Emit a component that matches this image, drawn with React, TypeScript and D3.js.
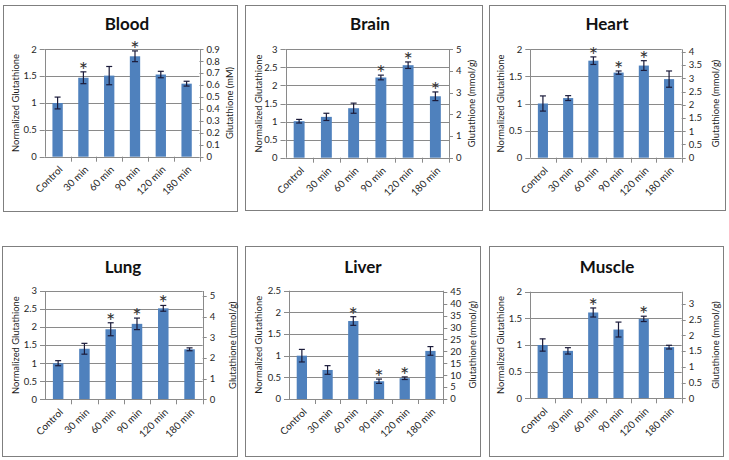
import React from "react";
import * as d3 from "d3";

const categories = ["Control", "30 min", "60 min", "90 min", "120 min", "180 min"];

const bloodValues = [1.0, 1.47, 1.51, 1.87, 1.53, 1.36];
const bloodErrors = [0.11, 0.11, 0.17, 0.1, 0.06, 0.045];
const bloodStars = [1, 3];

const brainValues = [1.01, 1.13, 1.37, 2.22, 2.56, 1.7];
const brainErrors = [0.05, 0.1, 0.14, 0.065, 0.09, 0.12];
const brainStars = [3, 4, 5];

const heartValues = [1.0, 1.1, 1.79, 1.57, 1.7, 1.45];
const heartErrors = [0.14, 0.045, 0.07, 0.03, 0.09, 0.15];
const heartStars = [2, 3, 4];

const lungValues = [1.0, 1.4, 1.94, 2.09, 2.52, 1.385];
const lungErrors = [0.07, 0.15, 0.18, 0.16, 0.08, 0.04];
const lungStars = [2, 3, 4];

const liverValues = [1.0, 0.67, 1.8, 0.41, 0.48, 1.11];
const liverErrors = [0.145, 0.1, 0.1, 0.05, 0.03, 0.1];
const liverStars = [2, 3, 4];

const muscleValues = [1.0, 0.89, 1.61, 1.29, 1.49, 0.96];
const muscleErrors = [0.115, 0.06, 0.085, 0.14, 0.05, 0.035];
const muscleStars = [2, 4];

const titles = ["Blood", "Brain", "Heart", "Lung", "Liver", "Muscle"];
const leftAxisTitle = "Normalized Glutathione";
const rightAxisTitles = [
  "Glutathione (mM)",
  "Glutathione (mmol/g)",
  "Glutathione (mmol/g)",
  "Glutathione (mmol/g)",
  "Glutathione (mmol/g)",
  "Glutathione (mmol/g)",
];
const leftMax = [2, 3, 2, 3, 2.5, 2];
const leftStep = [0.5, 0.5, 0.5, 0.5, 0.5, 0.5];
const rightMax = [0.9, 5, 4.1, 5.24, 45.5, 3.39];
const rightTickMax = [0.9, 5, 4, 5, 45, 3];
const rightStep = [0.1, 1, 0.5, 1, 5, 0.5];

const seriesValues = [bloodValues, brainValues, heartValues, lungValues, liverValues, muscleValues];
const seriesErrors = [bloodErrors, brainErrors, heartErrors, lungErrors, liverErrors, muscleErrors];
const seriesStars = [bloodStars, brainStars, heartStars, lungStars, liverStars, muscleStars];

// layout: box [x0,y0,x1,y1], plot [x0,y0,x1,y1]
const layouts = [
  { box: [3, 5, 237, 211], plot: [44.7, 49.3, 199.5, 156.7], titleX: 127, titleY: 30, lx: 16, rx: 230 },
  { box: [245, 5, 482, 210], plot: [285.5, 49.3, 449, 157.7], titleX: 370, titleY: 30, lx: 259, rx: 472 },
  { box: [489, 5, 725, 210], plot: [530.3, 49.3, 681.7, 157.7], titleX: 607, titleY: 30, lx: 501, rx: 716 },
  { box: [2, 246, 237, 456], plot: [45, 291, 202.7, 399.3], titleX: 123, titleY: 273, lx: 16, rx: 233 },
  { box: [245, 246, 480, 456], plot: [289, 290.7, 443.3, 399], titleX: 363, titleY: 273, lx: 259, rx: 473 },
  { box: [489, 246, 723, 456], plot: [530, 291.7, 681.7, 398.3], titleX: 607, titleY: 273, lx: 501, rx: 716 },
];

const FONT = "Lato, 'Open Sans', sans-serif";
const BAR = "#4f81bd";
const GRID = "#8a8a8a";
const TXT = "#262626";

const fmt = (v: number) => String(+v.toFixed(2));

function range(max: number, step: number) {
  const out: number[] = [];
  const n = Math.round(max / step);
  for (let i = 0; i <= n; i++) out.push(+(i * step).toFixed(4));
  return out;
}

function Panel({ i }: { i: number }) {
  const L = layouts[i];
  const [px0, py0, px1, py1] = L.plot;
  const x = d3.scaleBand<string>().domain(categories).range([px0, px1]).paddingInner(0.6).paddingOuter(0.3);
  const step = (px1 - px0) / categories.length;
  const y = d3.scaleLinear().domain([0, leftMax[i]]).range([py1, py0]);
  const y2 = d3.scaleLinear().domain([0, rightMax[i]]).range([py1, py0]);
  const lt = range(leftMax[i], leftStep[i]);
  const rt = range(rightTickMax[i], rightStep[i]);
  const vals = seriesValues[i];
  const errs = seriesErrors[i];
  const stars = seriesStars[i];
  const midY = (py0 + py1) / 2;
  return (
    <g>
      <rect x={L.box[0] + 0.5} y={L.box[1] + 0.5} width={L.box[2] - L.box[0]} height={L.box[3] - L.box[1]} fill="#fff" stroke="#7f7f7f" strokeWidth={1} />
      <text x={L.titleX} y={L.titleY} textAnchor="middle" fontFamily={FONT} fontWeight="bold" fontSize={17} fill="#111">
        {titles[i]}
      </text>
      {lt.map((t) => (
        <g key={"l" + t}>
          {t > 0 && <line x1={px0} x2={px1} y1={Math.round(y(t)) + 0.5} y2={Math.round(y(t)) + 0.5} stroke={GRID} />}
          <line x1={px0 - 5} x2={px0} y1={Math.round(y(t)) + 0.5} y2={Math.round(y(t)) + 0.5} stroke={GRID} />
          <text x={px0 - 8} y={y(t)} dy="0.35em" textAnchor="end" fontFamily={FONT} fontSize={9.5} fill={TXT}>
            {fmt(t)}
          </text>
        </g>
      ))}
      {rt.map((t) => (
        <g key={"r" + t}>
          <line x1={px1} x2={px1 + 4} y1={Math.round(y2(t)) + 0.5} y2={Math.round(y2(t)) + 0.5} stroke={GRID} />
          <text x={px1 + 7} y={y2(t)} dy="0.35em" textAnchor="start" fontFamily={FONT} fontSize={9.5} fill={TXT}>
            {fmt(t)}
          </text>
        </g>
      ))}
      <line x1={Math.round(px0) + 0.5} x2={Math.round(px0) + 0.5} y1={py0} y2={py1} stroke={GRID} />
      <line x1={Math.round(px1) + 0.5} x2={Math.round(px1) + 0.5} y1={py0} y2={py1} stroke={GRID} />
      {categories.map((c, k) => (
        <line key={"t" + c} x1={Math.round(px0 + step * (k + 1)) + 0.5} x2={Math.round(px0 + step * (k + 1)) + 0.5} y1={py1} y2={py1 + 5} stroke={GRID} />
      ))}
      {categories.map((c, k) => {
        const bx = x(c)!;
        const bw = x.bandwidth();
        const cx = bx + bw / 2;
        const top = y(vals[k]);
        const eHi = y(vals[k] + errs[k]);
        const eLo = y(vals[k] - errs[k]);
        return (
          <g key={c}>
            <rect x={bx} y={top} width={bw} height={py1 - top} fill={BAR} />
            <line x1={cx} x2={cx} y1={eHi} y2={eLo} stroke="#1b1b3a" strokeWidth={1.2} />
            <line x1={cx - 3} x2={cx + 3} y1={eHi} y2={eHi} stroke="#1b1b3a" strokeWidth={1.2} />
            <line x1={cx - 3} x2={cx + 3} y1={eLo} y2={eLo} stroke="#1b1b3a" strokeWidth={1.2} />
            {stars.includes(k) && (
              <text x={cx} y={eHi + 6} textAnchor="middle" fontFamily={FONT} fontSize={22} fill="#333">
                *
              </text>
            )}
            <text
              transform={`translate(${cx + 3},${py1 + 11}) rotate(-45)`}
              textAnchor="end"
              dy="0.35em"
              fontFamily={FONT}
              fontSize={10}
              fill={TXT}
            >
              {c}
            </text>
          </g>
        );
      })}
      <line x1={px0} x2={px1} y1={Math.round(py1) + 0.5} y2={Math.round(py1) + 0.5} stroke={GRID} />
      <text transform={`translate(${L.lx},${midY}) rotate(-90)`} textAnchor="middle" dy="0.35em" fontFamily={FONT} fontSize={9.4} fill="#1a1a1a">
        {leftAxisTitle}
      </text>
      <text transform={`translate(${L.rx},${midY}) rotate(-90)`} textAnchor="middle" dy="0.35em" fontFamily={FONT} fontSize={9.4} fill="#1a1a1a">
        {rightAxisTitles[i]}
      </text>
    </g>
  );
}

export default function App() {
  return (
    <svg width={729} height={460} style={{ position: "absolute", left: 0, top: 0, display: "block", background: "#fff" }}>
      <rect width={729} height={460} fill="#fff" />
      {layouts.map((_, i) => (
        <Panel key={i} i={i} />
      ))}
    </svg>
  );
}
